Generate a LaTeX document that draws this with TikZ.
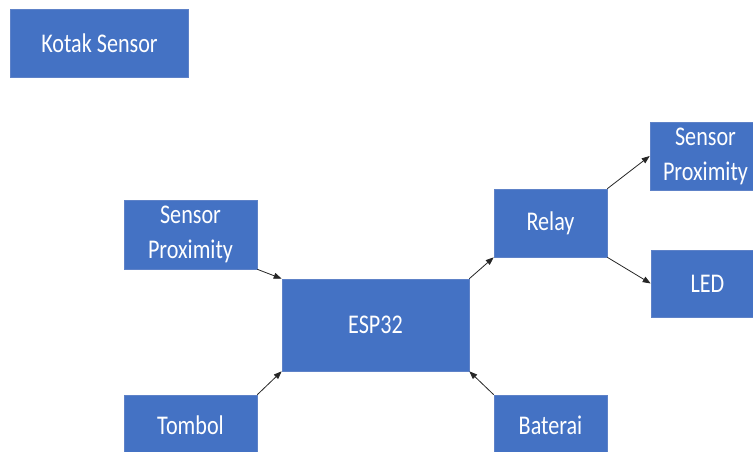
\documentclass[tikz,border=0pt]{standalone}
\usepackage{fontspec}
\newfontfamily\boxfont[FakeStretch=0.82]{Carlito}
\usetikzlibrary{arrows.meta}
\definecolor{boxfill}{HTML}{4472C4}
\definecolor{boxline}{HTML}{5E82C8}
\begin{document}
\begin{tikzpicture}[x=1pt,y=-1pt,
  blk/.style={draw=boxline, line width=0.6pt, fill=boxfill, text=white,
    font=\boxfont\fontsize{27}{35}\selectfont, align=center, inner sep=0pt},
  arr/.style={draw=black!85, line width=0.8pt, -{Triangle[length=8pt,width=6pt]}}]
\useasboundingbox (0,0) rectangle (753,452);
\clip (0,0) rectangle (753,452);
\node[blk, minimum width=178pt, minimum height=68pt] (kotak) at (99.5,43) {Kotak Sensor};
\node[blk, minimum width=133pt, minimum height=69pt] (spl) at (190.5,234.5) {Sensor\\Proximity};
\node[blk, minimum width=187pt, minimum height=92pt] (esp) at (375.5,325) {ESP32};
\node[blk, minimum width=113pt, minimum height=68pt] (relay) at (550.5,223) {Relay};
\node[blk, minimum width=111pt, minimum height=68pt] (spr) at (705.5,156) {Sensor\\Proximity};
\node[blk, minimum width=113pt, minimum height=67pt] (led) at (707.5,283.5) {LED};
\node[blk, minimum width=133pt, minimum height=60pt] (tombol) at (190.5,425) {Tombol};
\node[blk, minimum width=113pt, minimum height=60pt] (baterai) at (550.5,425) {Baterai};
\draw[arr] (spl.south east) -- (esp.north west);
\draw[arr] (tombol.north east) -- (esp.south west);
\draw[arr] (baterai.north west) -- (esp.south east);
\draw[arr] (esp.north east) -- (relay.south west);
\draw[arr] (relay.north east) -- (spr.west);
\draw[arr] (relay.south east) -- (led.west);
\end{tikzpicture}
\end{document}
